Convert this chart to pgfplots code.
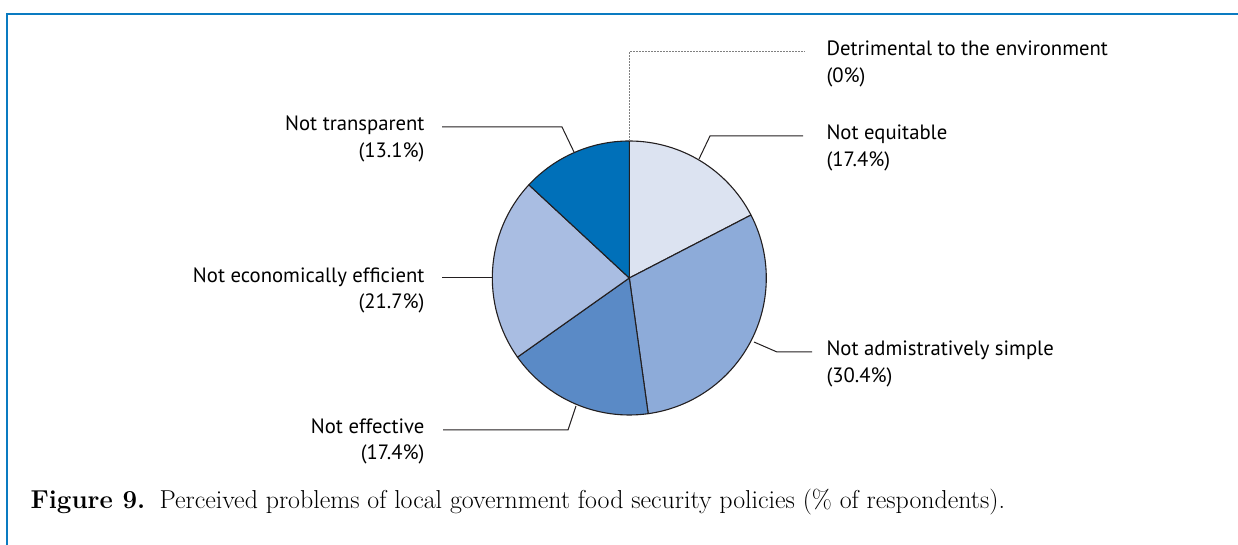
\documentclass[border=0pt]{standalone}
\usepackage{pgfplots}
\usepackage{pgfplotstable}
\pgfplotsset{compat=1.18}
\usepackage{fontspec}
\newfontfamily\labelfont{PT Sans}

\definecolor{frameblue}{HTML}{0A7BC1}
\definecolor{s0}{HTML}{DCE3F1}
\definecolor{s1}{HTML}{8DABD9}
\definecolor{s2}{HTML}{5A8AC6}
\definecolor{s3}{HTML}{A9BDE2}
\definecolor{s4}{HTML}{0070B9}
\definecolor{outline}{HTML}{231F20}
\tikzset{lbl/.style={font=\labelfont\fontsize{20.7}{24}\selectfont}}

% slices clockwise from 12 o'clock
\pgfplotstableread{
idx value
0 17.4
1 30.4
2 17.4
3 21.7
4 13.1
5 0
}\piedata

\begin{document}
\begin{tikzpicture}
\begin{axis}[x=1pt,y=1pt,xmin=0,xmax=1238,ymin=0,ymax=545,hide axis,clip=false,
  every node/.style={inner sep=0pt,outer sep=0pt,text=outline}]
\addplot[draw=none] coordinates {(0,0) (1238,545)};
% frame
\draw[frameblue,line width=2pt] (axis cs:7,-10) -- (axis cs:7,531) -- (axis cs:1260,531);
% pie
\def\startang{90}
\pgfplotsforeachungrouped \i in {0,...,4}{%
  \pgfplotstablegetelem{\i}{value}\of\piedata
  \pgfmathsetmacro\endang{\startang-3.6*\pgfplotsretval}%
  \edef\temp{\noexpand\filldraw[fill=s\i,draw=outline,line width=1.1pt,line join=round] (axis cs:629.3,267) -- ++(\startang:137pt) arc[start angle=\startang,end angle=\endang,radius=137pt] -- cycle;}%
  \temp
  \global\let\startang\endang
}
% leader lines
\draw[outline,line width=1pt] (axis cs:442,418) -- (axis cs:562,418) -- (axis cs:574,393);
\draw[outline,line width=1pt] (axis cs:442,267) -- (axis cs:491.5,267);
\draw[outline,line width=1pt] (axis cs:443,115) -- (axis cs:568,115) -- (axis cs:576,139);
\draw[outline,line width=1pt] (axis cs:754,203) -- (axis cs:777,193) -- (axis cs:812,193);
\draw[outline,line width=1pt] (axis cs:803,409) -- (axis cs:710,409) -- (axis cs:699,386);
\draw[gray,line width=1pt,dash pattern=on 1.5pt off 1.5pt] (axis cs:629.3,404) -- (axis cs:629.3,493) -- (axis cs:805,493);
% labels
\node[lbl,anchor=base west] at (axis cs:823,489) {Detrimental to the environment};
\node[lbl,anchor=base west] at (axis cs:823,462) {(0\%)};
\node[lbl,anchor=base west] at (axis cs:823,405) {Not equitable};
\node[lbl,anchor=base west] at (axis cs:823,378) {(17.4\%)};
\node[lbl,anchor=base west] at (axis cs:823,189) {Not admistratively simple};
\node[lbl,anchor=base west] at (axis cs:823,162) {(30.4\%)};
\node[lbl,anchor=base east] at (axis cs:428,414) {Not transparent};
\node[lbl,anchor=base east] at (axis cs:428,387) {(13.1\%)};
\node[lbl,anchor=base east] at (axis cs:428,262.5) {Not economically efficient};
\node[lbl,anchor=base east] at (axis cs:428,236) {(21.7\%)};
\node[lbl,anchor=base east] at (axis cs:428,111.5) {Not effective};
\node[lbl,anchor=base east] at (axis cs:428,85) {(17.4\%)};
\node[anchor=base west,font=\fontsize{25.9}{30}\selectfont] at (axis cs:27,36) {\textbf{Figure 9.}\hspace{0.55em}Perceived problems of local government food security policies (\% of respondents).};
\end{axis}
\pgfresetboundingbox
\path (0,0) rectangle (1238pt,545pt);
\end{tikzpicture}
\end{document}
